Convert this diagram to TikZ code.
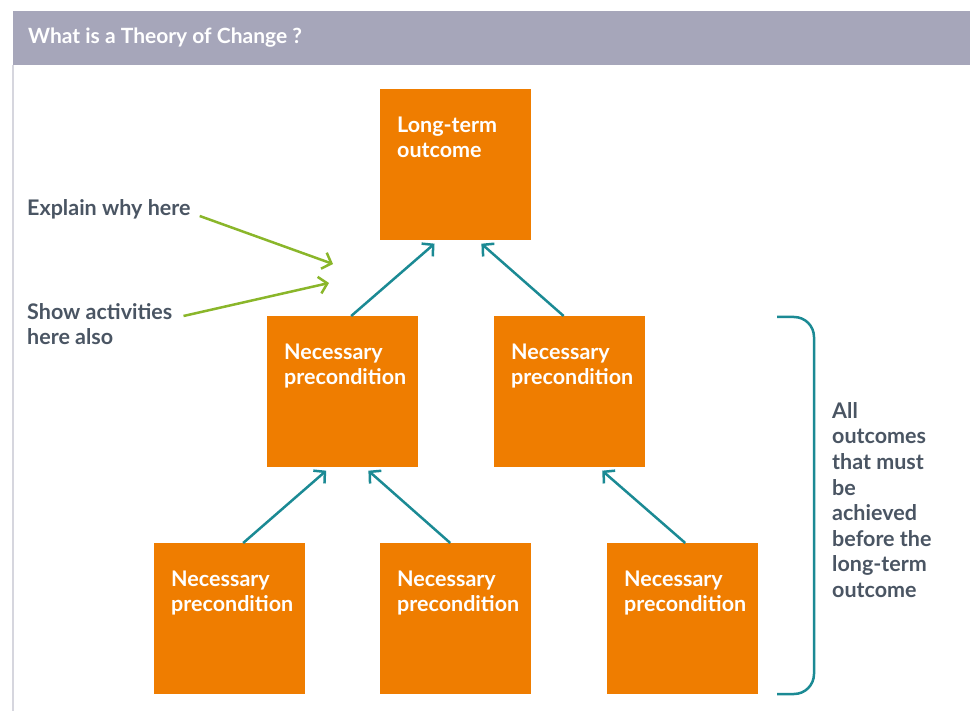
\documentclass[tikz,border=0pt]{standalone}
\usepackage{fontspec}
\setmainfont{Lato}
\usetikzlibrary{positioning, calc, arrows.meta}

\definecolor{tocorange}{HTML}{EF7D00}
\definecolor{tocteal}{HTML}{1B8A94}
\definecolor{tocgreen}{HTML}{8AB62A}
\definecolor{tocgrey}{HTML}{4A5563}
\definecolor{tocband}{HTML}{A6A6BA}
\definecolor{tocframe}{HTML}{D6D6DE}

\newcommand{\boxtext}[1]{\parbox[c][95pt][t]{117pt}{\raggedright #1}}

\begin{document}
\begin{tikzpicture}[x=1pt, y=-1pt,
    cond/.style={fill=tocorange, text=white, inner xsep=17pt, inner ysep=28pt, anchor=north west, font=\fontsize{21.5}{25}\selectfont\bfseries},
    up/.style={draw=tocteal, line width=2.5pt, -{Straight Barb[length=8pt,width=17pt]}, shorten >=5pt},
    hint/.style={draw=tocgreen, line width=2.5pt, -{Straight Barb[length=8pt,width=17pt]}},
    note/.style={text=tocgrey, inner sep=0pt, align=left, anchor=west, font=\fontsize{21.5}{25.6}\selectfont\bfseries}]
    \useasboundingbox (0,0) rectangle (970,711);

    % 見出し
    \fill[tocband] (13,11) rectangle (970,65);
    \node[anchor=west, inner sep=0pt, text=white, font=\fontsize{21}{24}\selectfont\bfseries] (title) at (28,38) {What is a Theory of Change ?};
    \draw[tocframe, line width=1.5pt] (13,65) -- (13,711);

    % 箱
    \node[cond] (goal) at (380,89) {\boxtext{Long-term\\outcome}};
    \node[cond] (pl) at (267,316) {\boxtext{Necessary\\precondition}};
    \node[cond] (pr) at (494,316) {\boxtext{Necessary\\precondition}};
    \node[cond] (bl) at (154,543) {\boxtext{Necessary\\precondition}};
    \node[cond] (bm) at (380,543) {\boxtext{Necessary\\precondition}};
    \node[cond] (br) at (607,543) {\boxtext{Necessary\\precondition}};

    % 矢印
    \draw[up] ($(pl.north west)!0.556!(pl.north east)$) -- ($(goal.south west)!0.385!(goal.south east)$);
    \draw[up] ($(pr.north west)!0.46!(pr.north east)$) -- ($(goal.south west)!0.645!(goal.south east)$);
    \draw[up] ($(bl.north west)!0.589!(bl.north east)$) -- ($(pl.south west)!0.416!(pl.south east)$);
    \draw[up] ($(bm.north west)!0.464!(bm.north east)$) -- ($(pl.south west)!0.645!(pl.south east)$);
    \draw[up] ($(br.north west)!0.517!(br.north east)$) -- ($(pr.south west)!0.69!(pr.south east)$);

    % 説明
    \node[note] (why) at (27,209) {Explain why here};
    \node[note] (act) at (27,324) {Show activities\\here also};
    \coordinate (whytip) at (333,264);
    \coordinate (acttip) at (329,283);
    \draw[hint] ($(why.east)+(9,7)$) -- (whytip);
    \draw[hint] ($(act.east)+(11,-8)$) -- (acttip);

    % 括弧
    \draw[tocteal, line width=2.5pt, rounded corners=20pt] (777,317) -| (814,694) -- (777,694);
    \node[note] (all) at (832,500) {All\\outcomes\\that must\\be\\achieved\\before the\\long-term\\outcome};

\end{tikzpicture}
\end{document}
